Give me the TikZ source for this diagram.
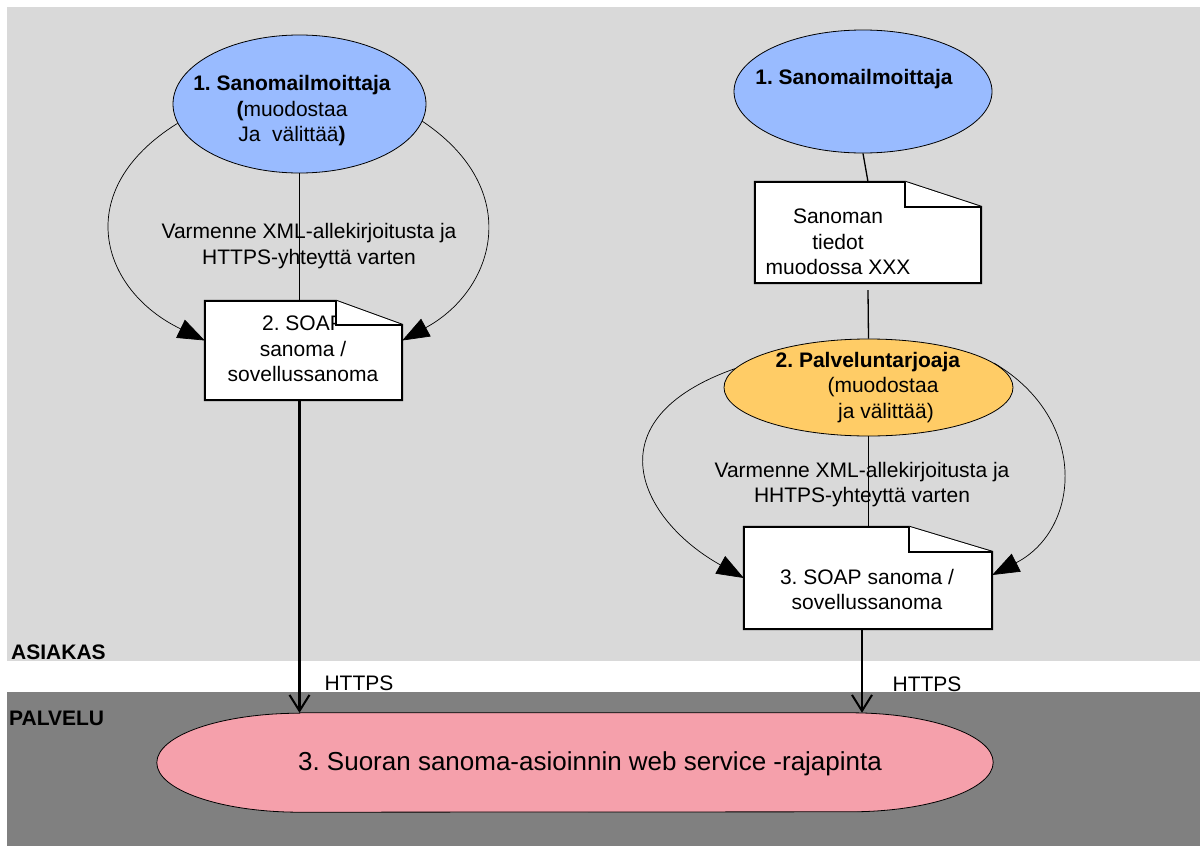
\documentclass[tikz,border=0pt]{standalone}
\usepackage{fontspec}
\setmainfont{Liberation Sans}
\usetikzlibrary{shapes.geometric,arrows.meta,calc}
\definecolor{bgA}{RGB}{217,217,217}
\definecolor{bgB}{RGB}{128,128,128}
\definecolor{blueE}{RGB}{153,187,255}
\definecolor{orangeE}{RGB}{255,204,102}
\definecolor{pinkE}{RGB}{245,160,171}
\frenchspacing
\begin{document}
\begin{tikzpicture}[x=1pt,y=-1pt,
  txt/.style={font=\fontsize{21}{25.5}\selectfont, align=center, inner sep=0pt, text=black},
  ell/.style={ellipse, draw=black, line width=0.8pt, inner sep=0pt},
  docbox/.style={rectangle, inner sep=0pt, draw=none},
  docline/.style={line width=2pt, fill=white, line join=miter},
  thinline/.style={line width=0.8pt},
  midline/.style={line width=1.3pt},
  curvearrow/.style={line width=0.7pt, -{Triangle[length=27pt,width=20pt]}},
  https/.style={line width=2.5pt, -{Straight Barb[length=16pt,width=20pt,line width=2pt]}}]
\useasboundingbox (0,0) rectangle (1200,846);
% backgrounds
\fill[bgA] (7,7) rectangle (1200,661);
\fill[bgB] (7,692) rectangle (1200,846);
\node[txt, font=\fontsize{21}{25}\selectfont\bfseries, anchor=west] (asiakas) at (11,652) {ASIAKAS};
\node[txt, font=\fontsize{21}{25}\selectfont\bfseries, anchor=west] (palvelu) at (9,718) {PALVELU};

% bottom interface
\node[docbox, minimum width=836pt, minimum height=99pt] (api) at (575,762.5) {};
\draw[fill=pinkE, line width=0.8pt] ([xshift=143pt]api.north west) -- ([xshift=-143pt]api.north east)
  arc[start angle=-90,end angle=90,x radius=143,y radius=49.5]
  -- ([xshift=143pt]api.south west)
  arc[start angle=90,end angle=270,x radius=143,y radius=49.5] -- cycle;
\node[txt, font=\fontsize{26}{30}\selectfont] (apit) at (590,764) {3. Suoran sanoma-asioinnin web service -rajapinta};

% ---------- left column ----------
\node[ell, fill=blueE, minimum width=253pt, minimum height=138pt] (e1) at (299.5,104) {};
\node[txt] (t1) at (292,111) {\textbf{1. Sanomailmoittaja}\\\textbf{(}muodostaa\\Ja\ \ välittää\textbf{)}};
\node[docbox, minimum width=197pt, minimum height=99pt] (d1) at (303.5,350.5) {};
\draw[thinline] (e1.south) -- (e1.south |- d1.north);
\node[txt] (l1) at (309,246) {Varmenne XML-allekirjoitusta ja\\HTTPS-yhteyttä varten};
\draw[docline] (d1.north west) -- ([xshift=-66pt]d1.north east) -- ([yshift=-24pt]d1.north east) -- (d1.south east) -- (d1.south west) -- cycle;
\node[txt] (t2) at (303,349) {2. SOAP\\sanoma /\\sovellussanoma};
\draw[docline] ([xshift=-66pt]d1.north east) -- ([xshift=-66pt,yshift=-24pt]d1.north east) -- ([yshift=-24pt]d1.north east);
\draw[curvearrow] (e1.189) .. controls (70,190) and (100,290) .. ([yshift=10pt]d1.west);
\draw[curvearrow] (e1.352) .. controls (525,190) and (495,290) .. ([yshift=10pt]d1.east);
\coordinate (h1top) at (e1.south |- d1.south);
\draw[https] (h1top) -- (h1top |- api.north);
\node[txt] (h1) at (359,683) {HTTPS};

% ---------- right column ----------
\node[ell, fill=blueE, minimum width=258pt, minimum height=123pt] (e2) at (863,91.5) {};
\node[txt] (t3) at (854,79) {\textbf{1. Sanomailmoittaja}};
\node[docbox, minimum width=226pt, minimum height=101pt] (d2) at (868,232.5) {};
\draw[midline] (e2.south) -- (d2.north);
\draw[docline] (d2.north west) -- ([xshift=-76pt]d2.north east) -- ([yshift=-25pt]d2.north east) -- (d2.south east) -- (d2.south west) -- cycle;
\draw[docline] ([xshift=-76pt]d2.north east) -- ([xshift=-76pt,yshift=-25pt]d2.north east) -- ([yshift=-25pt]d2.north east);
\node[txt] (t4) at (838,242) {Sanoman\\tiedot\\muodossa XXX};

\node[ell, fill=orangeE, minimum width=289pt, minimum height=97pt] (e3) at (868.5,387.5) {};
\draw[midline] ([yshift=-7pt]d2.south) -- (e3.north);
\node[txt] (t5) at (868,387.5) {\textbf{2. Palveluntarjoaja}\\\hspace*{30pt}(muodostaa\\\hspace*{36pt}ja välittää)};

\node[docbox, minimum width=248pt, minimum height=102pt] (d3) at (868,578) {};
\draw[midline] (e3.south) -- (e3.south |- d3.north);
\node[txt] (l2) at (862,484.5) {Varmenne XML-allekirjoitusta ja\\HHTPS-yhteyttä varten};
\draw[docline] (d3.north west) -- ([xshift=-83pt]d3.north east) -- ([yshift=-25pt]d3.north east) -- (d3.south east) -- (d3.south west) -- cycle;
\draw[docline] ([xshift=-83pt]d3.north east) -- ([xshift=-83pt,yshift=-25pt]d3.north east) -- ([yshift=-25pt]d3.north east);
\node[txt] (t6) at (867,589.5) {3. SOAP sanoma /\\sovellussanoma};
\draw[curvearrow] (e3.172) .. controls (590,420) and (640,520) .. (d3.west);
\draw[curvearrow] (e3.11) .. controls (1090,420) and (1080,530) .. ([yshift=3pt]d3.east);
\coordinate (h2top) at ([xshift=-6pt]d3.south);
\draw[https] (h2top) -- (h2top |- api.north);
\node[txt] (h2) at (927,684) {HTTPS};
\end{tikzpicture}
\end{document}
